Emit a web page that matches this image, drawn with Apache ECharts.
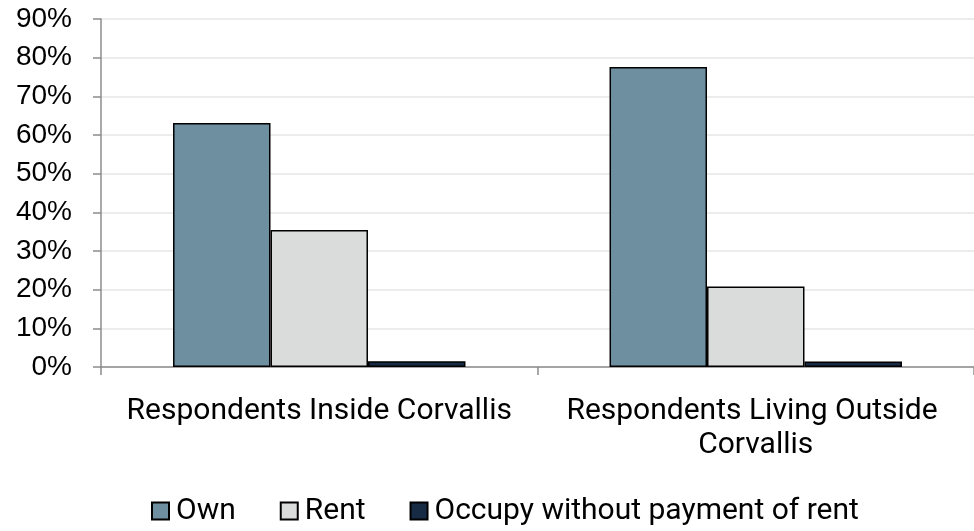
<!DOCTYPE html>
<html>
<head>
<meta charset="utf-8">
<script src="https://cdn.jsdelivr.net/npm/echarts@6/dist/echarts.min.js"></script>
<style>
  html, body { margin: 0; padding: 0; background: #fff; }
  #chart { width: 974px; height: 531px; }
</style>
</head>
<body>
<div id="chart"></div>
<script>
  // categories and series values (percent)
  var categories = ['Respondents Inside Corvallis', 'Respondents Living Outside Corvallis'];
  var ownValues = [63.1, 77.6];
  var rentValues = [35.4, 20.8];
  var occupyValues = [1.5, 1.4];
  var seriesNames = ['Own', 'Rent', 'Occupy without payment of rent'];

  var chart = echarts.init(document.getElementById('chart'));

  function barSeries(name, data, color) {
    return {
      name: name,
      type: 'bar',
      data: data,
      barGap: '0%',
      barCategoryGap: '33%',
      itemStyle: { color: color, borderColor: '#000', borderWidth: 1.5 }
    };
  }

  chart.setOption({
    animation: false,
    grid: { left: 101, right: 0, top: 19, bottom: 164, containLabel: false },
    legend: {
      top: 496,
      left: 151,
      padding: 0,
      itemWidth: 17,
      itemHeight: 17,
      itemGap: 44,
      icon: 'rect',
      textStyle: { fontFamily: 'Roboto', fontSize: 30, color: '#000', padding: [0, 0, 0, 2] },
      data: seriesNames
    },
    xAxis: {
      type: 'category',
      data: categories,
      axisLine: { lineStyle: { color: '#8c8c8c', width: 1.5 } },
      axisTick: { show: true, length: 8, lineStyle: { color: '#8c8c8c', width: 1.5 } },
      axisLabel: {
        interval: 0,
        fontFamily: 'Roboto',
        fontSize: 30,
        color: '#000',
        margin: 27,
        lineHeight: 34,
        width: 395,
        overflow: 'break'
      }
    },
    yAxis: {
      type: 'value',
      min: 0,
      max: 90,
      interval: 10,
      axisLine: { show: true, lineStyle: { color: '#8c8c8c', width: 1.5 } },
      axisTick: { show: true, length: 8, lineStyle: { color: '#8c8c8c', width: 1.5 } },
      splitLine: { lineStyle: { color: '#ececec', width: 2 } },
      axisLabel: {
        fontFamily: 'Liberation Sans',
        fontSize: 28,
        color: '#000',
        margin: 29,
        formatter: '{value}%'
      }
    },
    series: [
      barSeries(seriesNames[0], ownValues, '#6e8fa0'),
      barSeries(seriesNames[1], rentValues, '#dadcdb'),
      barSeries(seriesNames[2], occupyValues, '#172b45')
    ]
  });
</script>
</body>
</html>
